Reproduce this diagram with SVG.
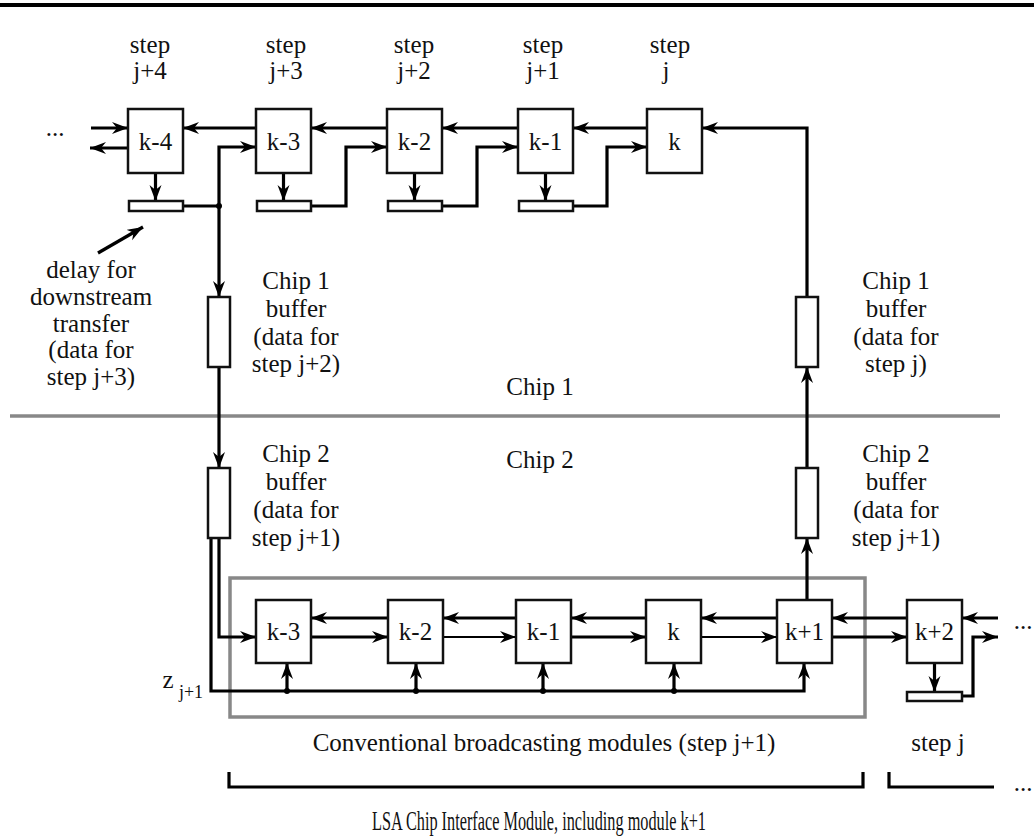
<svg xmlns="http://www.w3.org/2000/svg" width="1034" height="838" viewBox="0 0 1034 838">
<defs>
<marker id="ah" markerUnits="userSpaceOnUse" markerWidth="18" markerHeight="14" refX="16" refY="6" orient="auto">
<path d="M0,0 L16,6 L0,12 L5,6 z" fill="#000"/>
</marker>
<style>
.t{font-family:"Liberation Serif","Times New Roman",serif;font-size:25px;fill:#111;text-anchor:middle}
.box{fill:#fff;stroke:#111;stroke-width:2.5}
.bar{fill:#fff;stroke:#111;stroke-width:2.5}
.w{fill:none;stroke:#000;stroke-width:3.2}
.thin{fill:none;stroke:#000;stroke-width:2.2}
.a{marker-end:url(#ah)}
.gray{fill:none;stroke:#888;stroke-width:3.5}
</style>
</defs>
<rect x="0" y="3" width="1034" height="4" fill="#000"/>

<!-- chip boundary -->
<line class="gray" x1="10" y1="416" x2="1000" y2="416"/>
<rect id="broadcast-group" class="gray" x="230" y="578" width="635" height="139"/>

<g id="connectors">
<!-- top row -->
<line class="w a" x1="91" y1="128" x2="128" y2="128"/>
<line class="w a" x1="128" y1="148" x2="90" y2="148"/>
<line class="w a" x1="256" y1="128" x2="183" y2="128"/>
<line class="w a" x1="387" y1="128" x2="311" y2="128"/>
<line class="w a" x1="518" y1="128" x2="442" y2="128"/>
<line class="w a" x1="647" y1="128" x2="573" y2="128"/>
<line class="w a" x1="155.5" y1="173" x2="155.5" y2="201"/>
<line class="w a" x1="283.5" y1="173" x2="283.5" y2="201"/>
<line class="w a" x1="414.5" y1="173" x2="414.5" y2="201"/>
<line class="w a" x1="545.5" y1="173" x2="545.5" y2="201"/>
<path class="w" d="M183,206 L219,206"/>
<path class="w a" d="M219,206 L219,147 L256,147"/>
<path class="w a" d="M219,206 L219,297"/>
<circle cx="219" cy="206" r="3" fill="#000"/>
<path class="w a" d="M311,206 L346,206 L346,147 L387,147"/>
<path class="w a" d="M442,206 L477,206 L477,147 L518,147"/>
<path class="w a" d="M573,206 L607,206 L607,147 L647,147"/>
<path class="w a" d="M807,297 L807,128 L702,128"/>
<line class="w a" x1="98" y1="253" x2="143" y2="227"/>
<!-- between chips -->
<line class="w a" x1="219" y1="367" x2="219" y2="468"/>
<line class="w a" x1="807" y1="468" x2="807" y2="367"/>
<line class="w a" x1="807" y1="600" x2="807" y2="538"/>
<!-- bottom row -->
<path class="w a" d="M219,538 L219,637 L256,637"/>
<path class="w a" d="M211,538 L211,691 L804,691 L804,663"/>
<line class="w a" x1="287" y1="691" x2="287" y2="663"/>
<line class="w a" x1="416" y1="691" x2="416" y2="663"/>
<line class="w a" x1="543" y1="691" x2="543" y2="663"/>
<line class="w a" x1="674" y1="691" x2="674" y2="663"/>
<circle cx="287" cy="691" r="3" fill="#000"/>
<circle cx="416" cy="691" r="3" fill="#000"/>
<circle cx="543" cy="691" r="3" fill="#000"/>
<circle cx="674" cy="691" r="3" fill="#000"/>
<line class="w a" x1="388" y1="618" x2="311" y2="618"/>
<line class="w a" x1="516" y1="618" x2="443" y2="618"/>
<line class="w a" x1="646" y1="618" x2="571" y2="618"/>
<line class="w a" x1="777" y1="618" x2="701" y2="618"/>
<line class="w a" x1="907" y1="618" x2="832" y2="618"/>
<line class="w a" x1="998" y1="618" x2="962" y2="618"/>
<line class="w a" x1="311" y1="637" x2="388" y2="637"/>
<line class="thin a" x1="443" y1="637" x2="516" y2="637"/>
<line class="w a" x1="571" y1="637" x2="646" y2="637"/>
<line class="thin a" x1="701" y1="637" x2="777" y2="637"/>
<line class="w a" x1="832" y1="637" x2="907" y2="637"/>
<line class="w a" x1="934.5" y1="663" x2="934.5" y2="692"/>
<path class="w a" d="M962,696 L973,696 L973,637 L998,637"/>
<!-- brackets -->
<path class="w" d="M229,772 L229,787 L863,787 L863,772"/>
<path class="w" d="M889,772 L889,787 L994,787"/>
</g>

<!-- top row nodes -->
<g id="top-k-4"><rect class="box" x="128" y="109" width="55" height="64"/><text class="t" x="155.5" y="150">k-4</text></g>
<g id="top-k-3"><rect class="box" x="256" y="109" width="55" height="64"/><text class="t" x="283.5" y="150">k-3</text></g>
<g id="top-k-2"><rect class="box" x="387" y="109" width="55" height="64"/><text class="t" x="414.5" y="150">k-2</text></g>
<g id="top-k-1"><rect class="box" x="518" y="109" width="55" height="64"/><text class="t" x="545.5" y="150">k-1</text></g>
<g id="top-k"><rect class="box" x="647" y="109" width="55" height="64"/><text class="t" x="674.5" y="150">k</text></g>
<g id="delay-k-4"><rect class="bar" x="129" y="201" width="54" height="10"/></g>
<g id="delay-k-3"><rect class="bar" x="257" y="201" width="54" height="10"/></g>
<g id="delay-k-2"><rect class="bar" x="388" y="201" width="54" height="10"/></g>
<g id="delay-k-1"><rect class="bar" x="519" y="201" width="54" height="10"/></g>

<!-- buffers -->
<g id="chip1-buffer-left"><rect class="box" x="208" y="297" width="22" height="70"/></g>
<g id="chip2-buffer-left"><rect class="box" x="208" y="468" width="22" height="70"/></g>
<g id="chip1-buffer-right"><rect class="box" x="796" y="297" width="22" height="70"/></g>
<g id="chip2-buffer-right"><rect class="box" x="796" y="468" width="22" height="70"/></g>

<!-- bottom row nodes -->
<g id="bot-k-3"><rect class="box" x="256" y="600" width="55" height="63"/><text class="t" x="283.5" y="640">k-3</text></g>
<g id="bot-k-2"><rect class="box" x="388" y="600" width="55" height="63"/><text class="t" x="415.5" y="640">k-2</text></g>
<g id="bot-k-1"><rect class="box" x="516" y="600" width="55" height="63"/><text class="t" x="543.5" y="640">k-1</text></g>
<g id="bot-k"><rect class="box" x="646" y="600" width="55" height="63"/><text class="t" x="673.5" y="640">k</text></g>
<g id="bot-k+1"><rect class="box" x="777" y="600" width="55" height="63"/><text class="t" x="804.5" y="640">k+1</text></g>
<g id="bot-k+2"><rect class="box" x="907" y="600" width="55" height="63"/><text class="t" x="934.5" y="640">k+2</text></g>
<g id="delay-k+2"><rect class="bar" x="907" y="692" width="55" height="9"/></g>

<!-- labels -->
<g id="labels">
<text class="t" x="150" y="53">step</text><text class="t" x="150" y="79">j+4</text>
<text class="t" x="286" y="53">step</text><text class="t" x="286" y="79">j+3</text>
<text class="t" x="414" y="53">step</text><text class="t" x="414" y="79">j+2</text>
<text class="t" x="543" y="53">step</text><text class="t" x="543" y="79">j+1</text>
<text class="t" x="670" y="53">step</text><text class="t" x="666" y="79">j</text>
<text class="t" x="55" y="136">...</text>
<text class="t" x="91" y="278">delay for</text>
<text class="t" x="91" y="305">downstream</text>
<text class="t" x="91" y="332">transfer</text>
<text class="t" x="91" y="358">(data for</text>
<text class="t" x="91" y="385">step j+3)</text>
<text class="t" x="296" y="289">Chip 1</text>
<text class="t" x="296" y="317">buffer</text>
<text class="t" x="296" y="345">(data for</text>
<text class="t" x="296" y="372">step j+2)</text>
<text class="t" x="896" y="289">Chip 1</text>
<text class="t" x="896" y="317">buffer</text>
<text class="t" x="896" y="345">(data for</text>
<text class="t" x="896" y="372">step j)</text>
<text class="t" x="540" y="395">Chip 1</text>
<text class="t" x="540" y="468">Chip 2</text>
<text class="t" x="296" y="462">Chip 2</text>
<text class="t" x="296" y="490">buffer</text>
<text class="t" x="296" y="518">(data for</text>
<text class="t" x="296" y="546">step j+1)</text>
<text class="t" x="896" y="462">Chip 2</text>
<text class="t" x="896" y="490">buffer</text>
<text class="t" x="896" y="518">(data for</text>
<text class="t" x="896" y="546">step j+1)</text>
<text class="t" x="168" y="688">z</text>
<text class="t" x="191" y="698" style="font-size:18px">j+1</text>
<text class="t" x="1023" y="629">...</text>
<text class="t" x="544" y="751">Conventional broadcasting modules (step j+1)</text>
<text class="t" x="938" y="751">step j</text>
<text class="t" x="1023" y="791">...</text>
<text class="t" x="539" y="830" style="font-size:27px" textLength="334" lengthAdjust="spacingAndGlyphs">LSA Chip Interface Module, including module k+1</text>
</g>
</svg>
